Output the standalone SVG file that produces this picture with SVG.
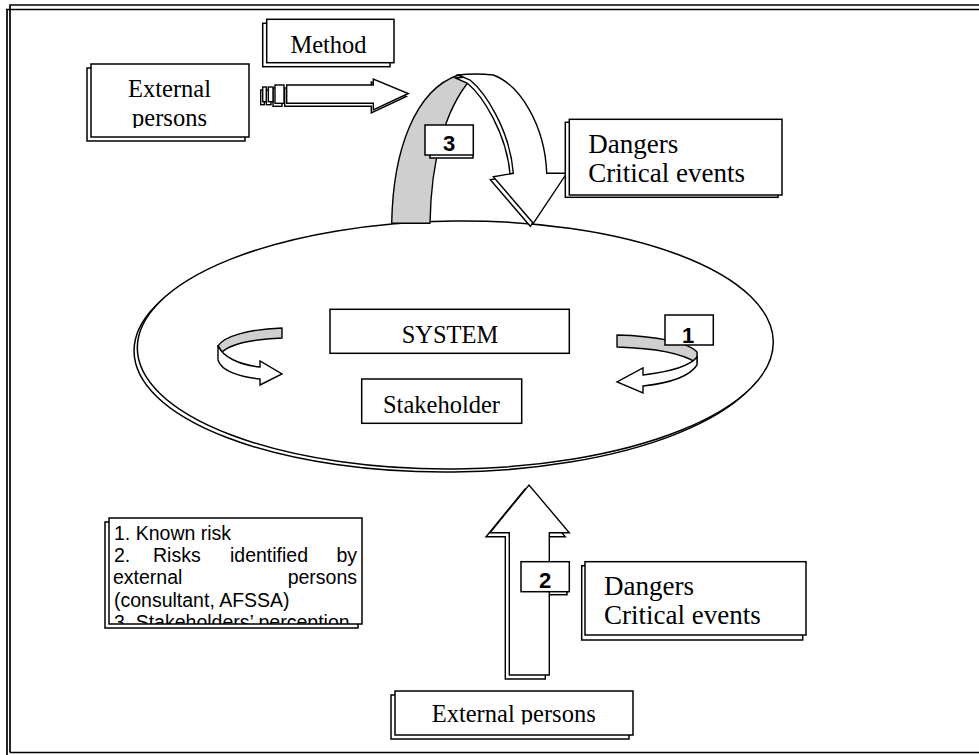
<svg xmlns="http://www.w3.org/2000/svg" width="979" height="755" viewBox="0 0 979 755">
<defs>
<style>
.box{fill:#fff;stroke:#000;stroke-width:1.5}
.gr{fill:#cfcfcf;stroke:#000;stroke-width:1.4;stroke-linejoin:round}
.wa{fill:#fff;stroke:#000;stroke-width:1.4;stroke-linejoin:miter}
.tr{font-family:"Liberation Serif","Times New Roman",serif;fill:#000}
.t24{font-size:24.5px}
.t27{font-size:27px}
.ar{font-family:"Liberation Sans",Arial,sans-serif;fill:#000}
.num{font-family:"Liberation Sans",Arial,sans-serif;font-weight:bold;font-size:22px;text-anchor:middle}
</style>
<clipPath id="c1"><rect x="90" y="60" width="160" height="68"/></clipPath>
<clipPath id="c2"><rect x="395" y="690" width="238" height="34.5"/></clipPath>
<clipPath id="c3"><rect x="109" y="518" width="253" height="106"/></clipPath>
</defs>
<rect width="979" height="755" fill="#fff"/>
<g id="frame" fill="none" stroke="#000" stroke-width="1.7">
<path d="M10,752.5 L10,5 L979,5 M7,755 L7,9.5 L979,9.5 M10,752.5 L979,752.5"/>
</g>

<g id="ellipse" transform="rotate(-0.6 455 345)">
<ellipse cx="452" cy="348" rx="318" ry="124" fill="#fff" stroke="#000" stroke-width="1.5"/>
<ellipse cx="455.3" cy="345" rx="318" ry="124" fill="#fff" stroke="#000" stroke-width="1.5"/>
</g>

<g id="system">
<rect class="box" x="330" y="309.3" width="239.3" height="44"/>
<text class="tr t24" x="450" y="343.3" text-anchor="middle">SYSTEM</text>
</g>
<g id="stakeholder">
<rect class="box" x="361.7" y="379" width="160" height="44.3"/>
<text class="tr t24" x="441.5" y="412.7" text-anchor="middle">Stakeholder</text>
</g>

<g id="connectors">
<!-- left rotating arrow -->
<path class="gr" d="M282,328 L282,338 C258,339 232,343 222,352 L218,346 C224,336 250,329 282,328 Z"/>
<path class="wa" d="M218,345 L218,360 C221,371 240,377 260,379 L260,385 L282,374 L260,361 L260,367 C240,365 222,357 218,345 Z"/>
<!-- right rotating arrow -->
<path class="gr" d="M617,335 C655,336 688,342 697,352 L697,363 C682,353 650,348 617,347 Z"/>
<path class="wa" d="M697,357 L697,365 C690,376 670,383 643,386 L643,393 L617,382 L643,368 L643,375 C668,372 690,366 697,357 Z"/>
<!-- striped arrow -->
<g transform="translate(-2,3)">
<path class="wa" d="M286.7,85 L373.3,85 L373.3,79 L408.3,93.5 L373.3,110 L373.3,103.3 L286.7,103.3 Z"/>
<rect class="wa" x="275" y="85" width="9" height="18.3"/>
<rect class="wa" x="268.3" y="87" width="4.7" height="14.7"/>
<rect class="wa" x="262.7" y="87" width="3.6" height="14.7"/>
</g>
<path class="wa" d="M286.7,85 L373.3,85 L373.3,79 L408.3,93.5 L373.3,110 L373.3,103.3 L286.7,103.3 Z"/>
<rect class="wa" x="275" y="85" width="9" height="18.3"/>
<rect class="wa" x="268.3" y="87" width="4.7" height="14.7"/>
<rect class="wa" x="262.7" y="87" width="3.6" height="14.7"/>
<!-- arch arrow 3 -->
<path class="gr" d="M391.7,223.3 C393,150 415,90 458.3,75 L470,80 C445,110 431,160 430,223.3 Z"/>
<path class="wa" transform="translate(-3,3)" d="M458.3,75 Q475,73 493.3,75 C520,85 545,125 546.7,173.3 L566.7,173.3 L533.3,223.3 L493.3,176.7 L513.3,173.3 C510,130 485,92 470,80 Z"/>
<path class="wa" d="M458.3,75 Q475,73 493.3,75 C520,85 545,125 546.7,173.3 L566.7,173.3 L533.3,223.3 L493.3,176.7 L513.3,173.3 C510,130 485,92 470,80 Z"/>
<!-- arrow 2 -->
<rect class="box" x="523" y="564.7" width="44" height="30"/>
<path class="wa" transform="translate(-4,4)" d="M509.3,675 L509.3,532.7 L490,532.7 L529,485 L569.3,532.7 L549.3,532.7 L549.3,675 Z"/>
<path class="wa" d="M509.3,675 L509.3,532.7 L490,532.7 L529,485 L569.3,532.7 L549.3,532.7 L549.3,675 Z"/>
</g>

<g id="label1">
<rect class="box" x="665" y="315" width="48.3" height="30"/>
<text class="num" x="688" y="343">1</text>
</g>
<g id="label3">
<rect class="box" x="430" y="128" width="43" height="30"/>
<rect class="box" x="425" y="125" width="48.3" height="30"/>
<text class="num" x="449" y="150.7">3</text>
</g>
<g id="label2">
<rect class="box" x="521" y="561.7" width="48.3" height="30"/>
<text class="num" x="545" y="588.3">2</text>
</g>

<g id="method">
<rect class="box" x="262.7" y="23.3" width="127.3" height="43.4"/>
<rect class="box" x="266.7" y="19.3" width="127.3" height="43.4"/>
<text class="tr t24" x="328.5" y="53.3" text-anchor="middle">Method</text>
</g>

<g id="external-top">
<rect class="box" x="87" y="68" width="158" height="73"/>
<rect class="box" x="91" y="64" width="158" height="73"/>
<g clip-path="url(#c1)">
<text class="tr t24" x="169.5" y="96.7" text-anchor="middle">External</text>
<text class="tr t24" x="169.5" y="126" text-anchor="middle">persons</text>
</g>
</g>

<g id="dangers-top">
<rect class="box" x="565.3" y="122.3" width="212.7" height="75"/>
<rect class="box" x="569.3" y="119.3" width="212.7" height="75.7"/>
<text class="tr t27" x="588.3" y="152.7">Dangers</text>
<text class="tr t27" x="588.3" y="181.7">Critical events</text>
</g>

<g id="dangers-bottom">
<rect class="box" x="581.7" y="565.7" width="221" height="74.3"/>
<rect class="box" x="585" y="561.7" width="221" height="73.3"/>
<text class="tr t27" x="604" y="595">Dangers</text>
<text class="tr t27" x="604" y="624">Critical events</text>
</g>

<g id="external-bottom">
<rect class="box" x="391" y="695" width="238" height="44"/>
<rect class="box" x="395" y="691" width="238" height="44"/>
<g clip-path="url(#c2)">
<text class="tr t24" x="513.7" y="721.7" text-anchor="middle">External persons</text>
</g>
</g>

<g id="legend">
<rect class="box" x="105" y="522" width="253" height="106"/>
<rect class="box" x="109" y="518" width="253" height="106"/>
<g clip-path="url(#c3)" class="ar" font-size="19.5px">
<text x="114" y="540">1. Known risk</text>
<text x="114" y="561.5">2.</text>
<text x="153" y="561.5">Risks</text>
<text x="230" y="561.5">identified</text>
<text x="357" y="561.5" text-anchor="end">by</text>
<text x="113" y="584">external</text>
<text x="357" y="584" text-anchor="end">persons</text>
<text x="114" y="606.5">(consultant, AFSSA)</text>
<text x="114" y="629">3. Stakeholders’ perception</text>
</g>
</g>
</svg>
